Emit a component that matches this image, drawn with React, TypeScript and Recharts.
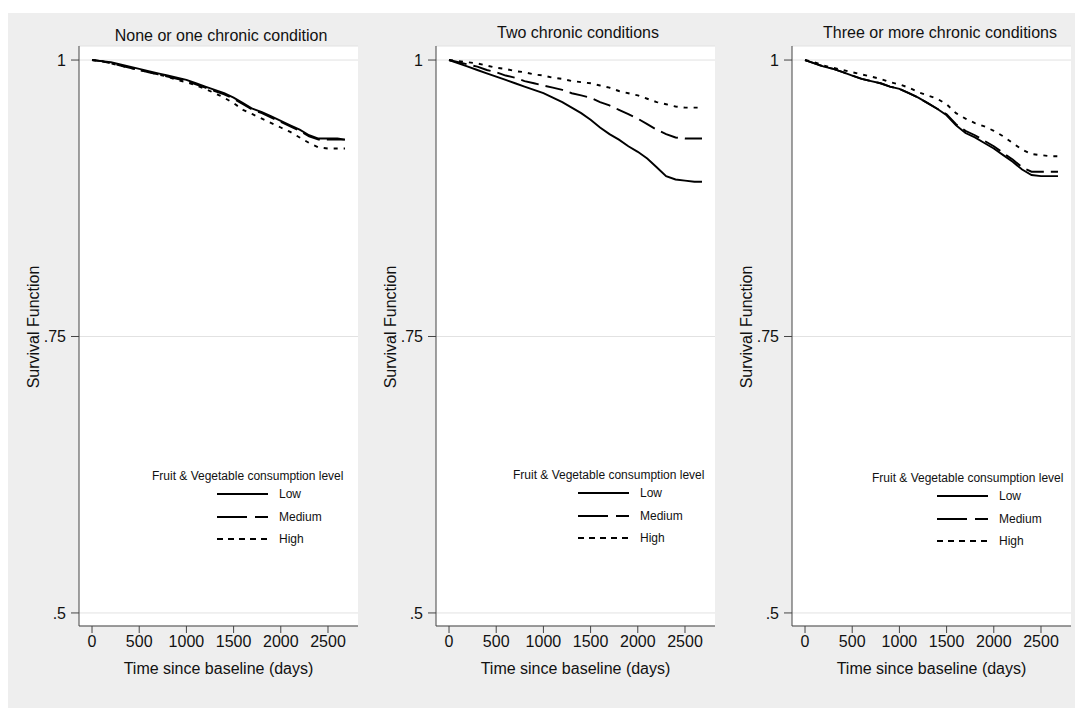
import React from "react";
import { LineChart, Line, XAxis, YAxis, CartesianGrid } from "recharts";

const FONT = '"Liberation Sans", Arial, sans-serif';

// days since baseline, shared by every curve
const DAYS = [0, 100, 200, 300, 400, 500, 600, 700, 800, 900, 1000, 1100, 1200, 1300, 1400, 1500, 1600, 1700, 1800, 1900, 2000, 2100, 2200, 2300, 2400, 2500, 2600, 2680];

// None or one chronic condition
const NONE_LOW = [1, 0.999, 0.998, 0.996, 0.994, 0.992, 0.99, 0.988, 0.986, 0.984, 0.982, 0.979, 0.976, 0.973, 0.97, 0.966, 0.961, 0.956, 0.953, 0.949, 0.945, 0.941, 0.937, 0.932, 0.929, 0.929, 0.929, 0.928];
const NONE_MEDIUM = [1, 0.999, 0.997, 0.995, 0.993, 0.991, 0.989, 0.987, 0.985, 0.983, 0.981, 0.978, 0.975, 0.972, 0.969, 0.965, 0.96, 0.955, 0.952, 0.948, 0.944, 0.94, 0.936, 0.931, 0.928, 0.928, 0.928, 0.928];
const NONE_HIGH = [1, 0.999, 0.997, 0.995, 0.993, 0.991, 0.989, 0.987, 0.985, 0.982, 0.98, 0.977, 0.974, 0.97, 0.966, 0.961, 0.955, 0.951, 0.947, 0.943, 0.939, 0.935, 0.93, 0.925, 0.921, 0.92, 0.92, 0.92];

// Two chronic conditions
const TWO_LOW = [1, 0.997, 0.994, 0.991, 0.988, 0.985, 0.982, 0.979, 0.976, 0.973, 0.97, 0.966, 0.962, 0.957, 0.952, 0.946, 0.939, 0.933, 0.928, 0.922, 0.917, 0.911, 0.903, 0.895, 0.892, 0.891, 0.89, 0.89];
const TWO_MEDIUM = [1, 0.998, 0.996, 0.994, 0.991, 0.989, 0.986, 0.984, 0.981, 0.979, 0.977, 0.975, 0.973, 0.97, 0.968, 0.966, 0.962, 0.959, 0.955, 0.951, 0.947, 0.942, 0.937, 0.933, 0.93, 0.929, 0.929, 0.929];
const TWO_HIGH = [1, 0.999, 0.998, 0.997, 0.995, 0.993, 0.992, 0.99, 0.989, 0.987, 0.986, 0.984, 0.983, 0.981, 0.98, 0.979, 0.977, 0.975, 0.972, 0.97, 0.968, 0.965, 0.962, 0.96, 0.958, 0.957, 0.957, 0.957];

// Three or more chronic conditions
const THREE_LOW = [1, 0.997, 0.994, 0.992, 0.989, 0.986, 0.983, 0.981, 0.979, 0.976, 0.974, 0.97, 0.966, 0.961, 0.956, 0.95, 0.941, 0.934, 0.93, 0.925, 0.92, 0.914, 0.908, 0.901, 0.896, 0.895, 0.895, 0.895];
const THREE_MEDIUM = [1, 0.997, 0.994, 0.992, 0.989, 0.986, 0.983, 0.981, 0.979, 0.976, 0.974, 0.97, 0.966, 0.961, 0.956, 0.951, 0.942, 0.936, 0.932, 0.927, 0.922, 0.916, 0.91, 0.903, 0.899, 0.899, 0.899, 0.899];
const THREE_HIGH = [1, 0.998, 0.995, 0.993, 0.991, 0.989, 0.987, 0.985, 0.983, 0.98, 0.978, 0.975, 0.971, 0.968, 0.965, 0.96, 0.952, 0.947, 0.943, 0.94, 0.936, 0.931, 0.925, 0.919, 0.915, 0.914, 0.913, 0.913];

const TITLES = ["None or one chronic condition", "Two chronic conditions", "Three or more chronic conditions"];
const LEVELS = ["Low", "Medium", "High"];
const X_TICKS = [0, 500, 1000, 1500, 2000, 2500];
const Y_TICKS = [0.5, 0.75, 1];

const SERIES = [
  [NONE_LOW, NONE_MEDIUM, NONE_HIGH],
  [TWO_LOW, TWO_MEDIUM, TWO_HIGH],
  [THREE_LOW, THREE_MEDIUM, THREE_HIGH],
];

// layout (page pixels)
const LAYOUT = [
  { axisX: 79, titleX: 221, titleY: 36, legX: 217, legY: 476 },
  { axisX: 436, titleX: 578, titleY: 33, legX: 578, legY: 475 },
  { axisX: 792, titleX: 940, titleY: 33, legX: 937, legY: 478 },
];

const LINE_DASH = ["", "18 7", "4 6"];
const LEGEND_DASH = ["", "30 8", "6 5"];
const INK = "#111";

const fmtY = (v: number) => (v === 1 ? "1" : String(v).replace(/^0/, ""));

// eslint-disable-next-line @typescript-eslint/no-explicit-any
const YTitle = (props: any) => {
  const vb = props.viewBox ?? { x: 0, y: 38, width: 60, height: 580 };
  const cx = vb.x + vb.width - 46;
  const cy = vb.y + vb.height / 2 - 9;
  return (
    <text x={cx} y={cy} transform={`rotate(-90 ${cx} ${cy})`} textAnchor="middle" dominantBaseline="central" fontSize={16} fill={INK} fontFamily={FONT}>
      Survival Function
    </text>
  );
};

// eslint-disable-next-line @typescript-eslint/no-explicit-any
const XTitle = (props: any) => {
  const vb = props.viewBox ?? { x: 60, y: 618, width: 279, height: 60 };
  return (
    <text x={vb.x + vb.width / 2} y={vb.y + 42} textAnchor="middle" dominantBaseline="central" fontSize={16} fill={INK} fontFamily={FONT}>
      Time since baseline (days)
    </text>
  );
};

function LegendBox({ x, y }: { x: number; y: number }) {
  // x = left end of legend keys, y = centre of legend title
  return (
    <svg width={270} height={80} style={{ position: "absolute", left: x - 8 - 70, top: y - 8 - 10 }}>
      <text x={5} y={10} dominantBaseline="central" fontSize={12} fill={INK} fontFamily={FONT}>
        Fruit &amp; Vegetable consumption level
      </text>
      {LEVELS.map((name, i) => {
        const ly = 10 + [18, 41, 63][i];
        return (
          <g key={name}>
            <line x1={70} x2={121} y1={ly} y2={ly} stroke="#000" strokeWidth={1.8} strokeDasharray={LEGEND_DASH[i] || undefined} />
            <text x={132} y={ly} dominantBaseline="central" fontSize={12} fill={INK} fontFamily={FONT}>
              {name}
            </text>
          </g>
        );
      })}
    </svg>
  );
}

function Panel({ idx }: { idx: number }) {
  const lay = LAYOUT[idx];
  const [low, medium, high] = SERIES[idx];
  const rows = DAYS.map((d, i) => ({ day: d, low: low[i], medium: medium[i], high: high[i] }));
  const keys = ["low", "medium", "high"];

  return (
    <>
      <div
        style={{
          position: "absolute",
          left: lay.titleX - 8 - 170,
          width: 340,
          top: lay.titleY - 8 - 10,
          lineHeight: "20px",
          textAlign: "center",
          fontSize: 16,
          color: INK,
        }}
      >
        {TITLES[idx]}
      </div>
      <LineChart
        width={359}
        height={678}
        data={rows}
        margin={{ top: 38, right: 20, bottom: 0, left: 0 }}
        style={{ position: "absolute", left: lay.axisX - 8 - 60, top: 0 }}
      >
        <CartesianGrid vertical={false} fill="#ffffff" stroke="#e2e2e2" />
        <XAxis
          dataKey="day"
          type="number"
          domain={[-138, 2818]}
          ticks={X_TICKS}
          allowDataOverflow
          height={60}
          tickSize={7}
          tickMargin={3}
          stroke="#444"
          tick={{ fontSize: 16, fill: INK, fontFamily: FONT }}
          label={<XTitle />}
        />
        <YAxis
          type="number"
          domain={[0.4882, 1.0127]}
          ticks={Y_TICKS}
          allowDataOverflow
          width={60}
          tickSize={8}
          tickMargin={5}
          tickFormatter={fmtY}
          stroke="#444"
          tick={{ fontSize: 16, fill: INK, fontFamily: FONT }}
          label={<YTitle />}
        />
        {keys.map((k, i) => (
          <Line
            key={k}
            dataKey={k}
            name={LEVELS[i]}
            type="linear"
            stroke="#000"
            strokeWidth={1.9}
            strokeDasharray={LINE_DASH[i] || undefined}
            dot={false}
            isAnimationActive={false}
          />
        ))}
      </LineChart>
      <LegendBox x={lay.legX} y={lay.legY} />
    </>
  );
}

export default function App() {
  return (
    <div style={{ position: "relative", width: 1075, height: 717, fontFamily: FONT }}>
      <div style={{ position: "absolute", left: 0, top: 5, width: 1075, height: 695, background: "#eeeeee" }} />
      {[0, 1, 2].map((i) => (
        <Panel key={i} idx={i} />
      ))}
    </div>
  );
}
